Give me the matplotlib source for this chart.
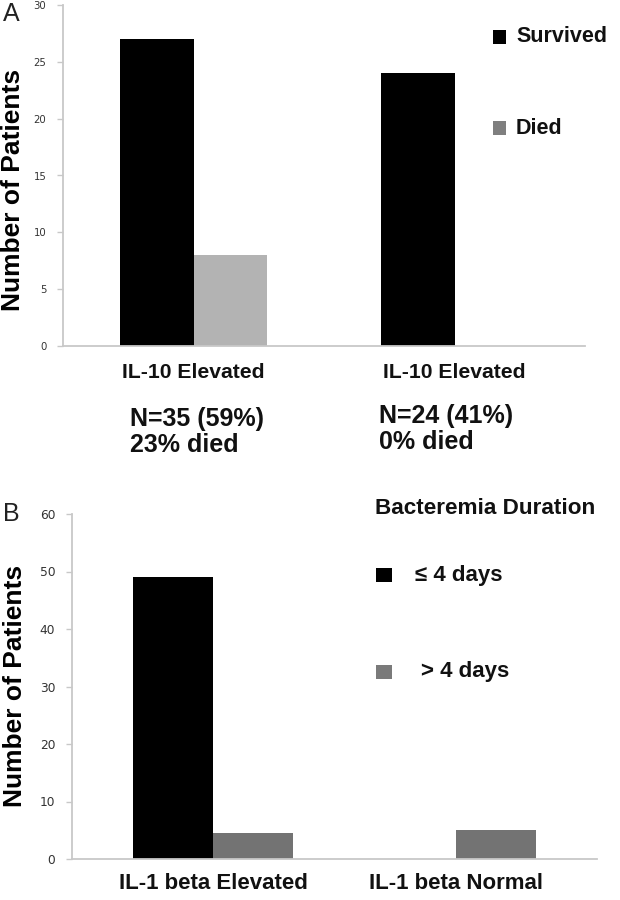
import matplotlib
matplotlib.use("Agg")
import matplotlib.pyplot as plt
from matplotlib.patches import Rectangle

# ---------------- data ----------------
a_categories = ["IL-10 Elevated", "IL-10 Elevated"]
a_survived = [27, 24]
a_died = [8, 0]
a_notes = ["N=35 (59%)\n23% died", "N=24 (41%)\n0% died"]
a_yticks = [0, 5, 10, 15, 20, 25, 30]
a_legend = ["Survived", "Died"]

b_categories = ["IL-1 beta Elevated", "IL-1 beta Normal"]
b_short = [49, 0]
b_long = [4.6, 5.0]
b_yticks = [0, 10, 20, 30, 40, 50, 60]
b_legend_title = "Bacteremia Duration"
b_legend = ["\u2264 4 days", "> 4 days"]

# ---------------- style ----------------
W, H = 620, 900
FONT = ["Liberation Sans", "DejaVu Sans"]
plt.rcParams["font.family"] = FONT
SPINE = "#c8c8c8"
TICKTXT = "#333333"


def fx(px):
    return px / W


def fy(py):
    return 1 - py / H


fig = plt.figure(figsize=(W / 100, H / 100), dpi=100)


def style_axes(ax, ytick_size):
    for s in ("top", "right"):
        ax.spines[s].set_visible(False)
    for s in ("left", "bottom"):
        ax.spines[s].set_color(SPINE)
        ax.spines[s].set_linewidth(1.3)
    ax.tick_params(axis="y", direction="out", length=4, width=1, color=SPINE,
                   labelsize=ytick_size, labelcolor=TICKTXT, pad=8)
    for lab in ax.get_yticklabels():
        lab.set_family("DejaVu Sans")
    ax.tick_params(axis="x", length=0)


# ---------------- panel A ----------------
axA = fig.add_axes([fx(63), fy(346), fx(585) - fx(63), (346 - 5) / H])
xA = list(range(len(a_categories)))
wA = 0.283
axA.bar([x - wA / 2 for x in xA], a_survived, width=wA, color="#000000")
axA.bar([x + wA / 2 for x in xA], a_died, width=wA, color="#b3b3b3")
axA.set_xlim(-0.5, 1.5)
axA.set_ylim(0, 30)
axA.set_yticks(a_yticks)
axA.set_xticks(xA)
axA.set_xticklabels(a_categories, fontsize=15.2, fontweight="bold", color="#111111")
axA.tick_params(axis="x", pad=12)
style_axes(axA, 7.3)
axA.set_ylabel("Number of Patients", fontsize=19, fontweight="bold")
axA.yaxis.set_label_coords((13 - 63) / 522, (346 - 190) / 341)
axA.yaxis.label.set_verticalalignment("center")

note_dx = [-0.245, -0.29]
note_y = [-0.178, -0.169]
for x, t, dx, yy in zip(xA, a_notes, note_dx, note_y):
    axA.text(x + dx, yy, t, transform=axA.get_xaxis_transform(), ha="left", va="top",
             fontsize=18, fontweight="bold", color="#111111", linespacing=1.1)

# legend A
for lab, col, yc in zip(a_legend, ["#000000", "#7f7f7f"], [37, 128]):
    fig.add_artist(Rectangle((fx(493), fy(yc + 6.5)), fx(13), 13 / H, transform=fig.transFigure,
                             facecolor=col, edgecolor="none"))
    fig.text(fx(516), fy(yc), lab, ha="left", va="center", fontsize=15.5, fontweight="bold",
             color="#111111")

fig.text(fx(3), fy(14), "A", ha="left", va="center", fontsize=18, color="#222222")

# ---------------- panel B ----------------
axB = fig.add_axes([fx(72), fy(859), fx(597) - fx(72), (859 - 514) / H])
xB = list(range(len(b_categories)))
wB = 0.33
axB.bar([x - wB / 2 for x in xB], b_short, width=wB, color="#000000")
axB.bar([x + wB / 2 for x in xB], b_long, width=wB, color="#737373")
axB.set_xlim(-0.58, 1.58)
axB.set_ylim(0, 60)
axB.set_yticks(b_yticks)
axB.set_xticks(xB)
axB.set_xticklabels(b_categories, fontsize=16, fontweight="bold", color="#111111")
axB.tick_params(axis="x", pad=10)
style_axes(axB, 8.8)
axB.set_ylabel("Number of Patients", fontsize=19, fontweight="bold")
axB.yaxis.set_label_coords((15 - 72) / 525, (859 - 686) / 345)
axB.yaxis.label.set_verticalalignment("center")

# legend B
fig.text(fx(375), fy(508), b_legend_title, ha="left", va="center", fontsize=16.2,
         fontweight="bold", color="#111111")
for lab, col, yc, tx in zip(b_legend, ["#000000", "#7a7a7a"], [575, 672], [415, 421]):
    fig.add_artist(Rectangle((fx(376), fy(yc + 7)), fx(16), 14 / H, transform=fig.transFigure,
                             facecolor=col, edgecolor="none"))
    fig.text(fx(tx), fy(yc), lab, ha="left", va="center", fontsize=16, fontweight="bold",
             color="#111111")

fig.text(fx(3), fy(514), "B", ha="left", va="center", fontsize=18, color="#222222")

fig.savefig("out.png", dpi=100, facecolor="white")
